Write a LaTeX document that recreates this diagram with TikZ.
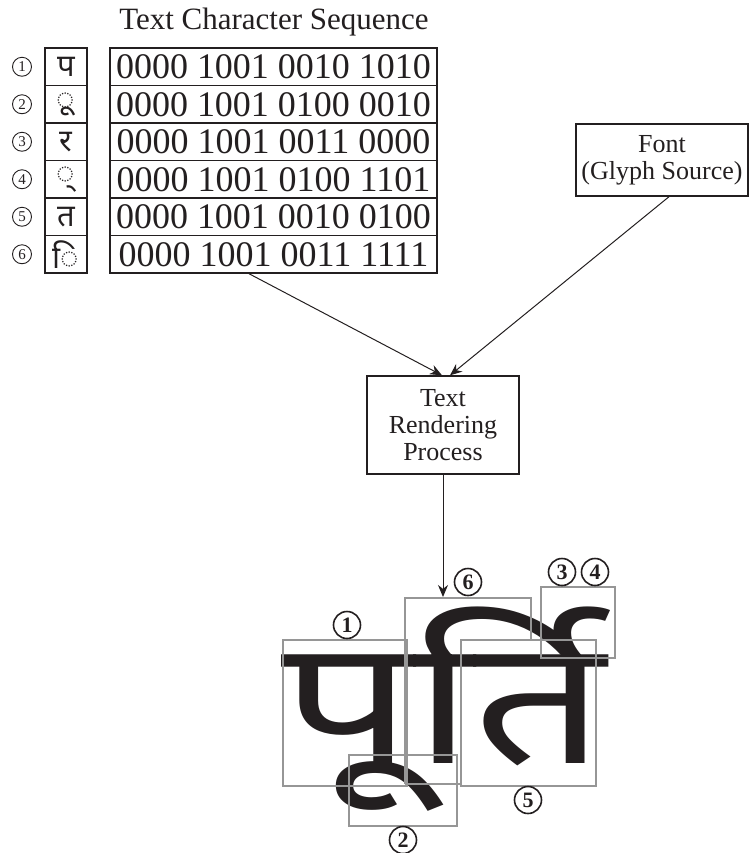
\documentclass[tikz,border=0pt]{standalone}
\usepackage{fontspec}
\setmainfont{Liberation Serif}
\newfontfamily\devfont[Script=Devanagari]{Noto Sans}
\usetikzlibrary{arrows.meta}
\definecolor{ink}{RGB}{35,31,32}
\definecolor{boxgray}{RGB}{150,150,150}

\begin{document}
\begin{tikzpicture}[x=0.5pt,y=-0.5pt,>={Stealth[length=6pt,width=5pt]},
  every node/.style={text=ink},
  cell/.style={draw=ink,line width=0.7pt,minimum height=18.75pt,inner sep=0pt},
  num/.style={circle,draw=ink,line width=0.45pt,minimum size=9.5pt,inner sep=0pt,font=\fontsize{7.5}{8}\selectfont},
  bignum/.style={circle,draw=ink,line width=0.8pt,minimum size=13.5pt,inner sep=0pt,font=\fontsize{11}{12}\selectfont\bfseries},
  glyphbox/.style={draw=boxgray,line width=0.6pt},
  block/.style={draw=ink,line width=0.7pt,align=center,inner sep=0pt,font=\fontsize{13}{13.5}\selectfont}]
\useasboundingbox (0,0) rectangle (749,853);

\node[font=\fontsize{15.5}{17}\selectfont] (title) at (274,22) {Text Character Sequence};

% character sequence table
\foreach \i/\ch/\code in {1/प/0000 1001 0010 1010,2/◌ू/0000 1001 0100 0010,3/र/0000 1001 0011 0000,
  4/◌्/0000 1001 0100 1101,5/त/0000 1001 0010 0100,6/◌ि/0000 1001 0011 1111}{
  \node[num] (n\i) at (22,{29.25+37.5*\i}) {\i};
  \node[cell,minimum width=21pt,font=\devfont\fontsize{15.5}{15.5}\selectfont] (ch\i) at (66,{29.25+37.5*\i}) {\ch};
  \node[cell,minimum width=163.5pt,font=\fontsize{18}{18}\selectfont] (code\i) at (273.5,{29.25+37.5*\i}) {\code};
}

\node[block,minimum width=86pt,minimum height=36pt] (font) at (662,160) {Font\\(Glyph Source)};
\node[block,minimum width=76pt,minimum height=49pt] (proc) at (443,425) {Text\\Rendering\\Process};
\coordinate (render) at (443,597);

\draw[->,ink,line width=0.5pt] ([xshift=-12.25pt]code6.south) -- ([xshift=-0.5pt]proc.north);
\draw[->,ink,line width=0.5pt] ([xshift=3.5pt]font.south) -- ([xshift=3.5pt]proc.north);
\draw[->,ink,line width=0.5pt] (proc) -- (render);

% rendered word
\node[font={\devfont\bfseries\fontsize{95}{100}\selectfont},inner sep=0pt,anchor=base west] (word) at (281,763) {\scalebox{1.22}[0.92]{पूर्ति}};

\draw[glyphbox] (283,640) rectangle (407,786);
\draw[glyphbox] (405,784) -- (405,598) -- (531,598) -- (531,640);
\draw[glyphbox] (405,784) -- (461,784);
\draw[glyphbox] (461,640) rectangle (596,786);
\draw[glyphbox] (541,587) rectangle (615,658);
\draw[glyphbox] (349,755) rectangle (457,826);

\node[bignum] (g1) at (347,625) {1};
\node[bignum] (g2) at (403,840) {2};
\node[bignum] (g3) at (562,572) {3};
\node[bignum] (g4) at (595,572) {4};
\node[bignum] (g5) at (528,800) {5};
\node[bignum] (g6) at (468,582) {6};

\end{tikzpicture}
\end{document}
